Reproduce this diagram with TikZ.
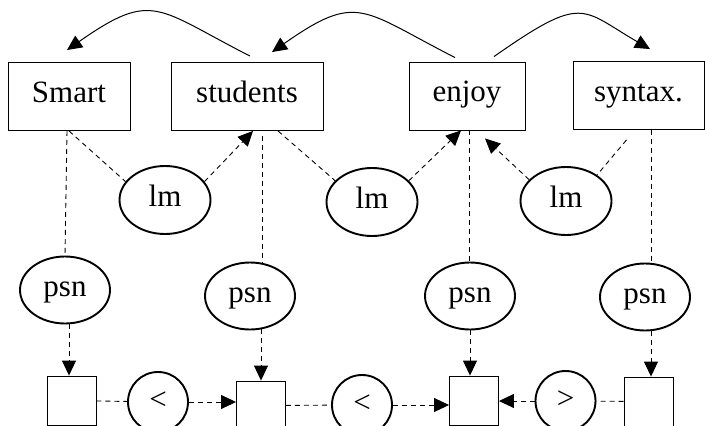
\documentclass[tikz,border=0pt]{standalone}
\usepackage{fontspec}
\setmainfont{Liberation Serif}
\usepackage{tikz}
\usetikzlibrary{arrows.meta, shapes.geometric, calc}
\tikzset{
    wordbox/.style={rectangle, draw, line width=0.9pt, minimum height=68pt, inner sep=0pt, text height=21pt, text depth=10pt, font=\fontsize{31pt}{36pt}\selectfont},
    lmnode/.style={ellipse, draw, line width=1.9pt, minimum width=91pt, minimum height=68pt, inner sep=0pt, text height=21pt, text depth=8pt, font=\fontsize{31pt}{36pt}\selectfont},
    slotbox/.style={rectangle, draw, line width=0.9pt, minimum width=49pt, minimum height=49pt, inner sep=0pt},
    cmpnode/.style={ellipse, draw, line width=1.9pt, minimum width=60pt, minimum height=60pt, inner sep=0pt, text height=21pt, text depth=7pt, font=\fontsize{31pt}{36pt}\selectfont},
    link/.style={dash pattern=on 5pt off 4pt, line width=0.9pt},
    dep/.style={-{Triangle[length=15pt,width=14pt]}, dash pattern=on 5pt off 4pt, line width=0.9pt},
    arc/.style={-{Triangle[length=15pt,width=14pt]}, line width=1pt},
}
\begin{document}
\begin{tikzpicture}[x=1pt, y=1pt]
    \useasboundingbox (0,0) rectangle (705,-426);

    % Parole
    \node[wordbox, minimum width=122pt] (w1) at (69,-96.5) {Smart};
    \node[wordbox, minimum width=152pt] (w2) at (247,-96.5) {students};
    \node[wordbox, minimum width=116pt] (w3) at (467,-96) {enjoy};
    \node[wordbox, minimum width=131pt] (w4) at (638.5,-95.5) {syntax.};

    % Modello di linguaggio
    \node[lmnode] (l1) at (165,-200) {lm};
    \node[lmnode] (l2) at (372,-202) {lm};
    \node[lmnode] (l3) at (566,-201) {lm};

    % Posizioni
    \node[lmnode, minimum width=90pt, minimum height=67pt] (p1) at (65,-290) {psn};
    \node[lmnode, minimum width=90pt, minimum height=67pt] (p2) at (250,-296) {psn};
    \node[lmnode, minimum width=90pt, minimum height=67pt] (p3) at (470,-296) {psn};
    \node[lmnode, minimum width=90pt, minimum height=67pt] (p4) at (645,-297) {psn};

    % Slot e confronti
    \node[slotbox] (b1) at (71.5,-400.5) {};
    \node[slotbox] (b2) at (261,-405.5) {};
    \node[slotbox] (b3) at (474,-400.5) {};
    \node[slotbox] (b4) at (648.5,-401.5) {};
    \node[cmpnode] (c1) at (158,-402) {<};
    \node[cmpnode] (c2) at (362,-405) {<};
    \node[cmpnode] (c3) at (565.5,-401) {>};

    % Archi sopra
    \draw[arc] ([xshift=3pt,yshift=6pt]w2.north) to[out=153, in=35, out distance=105pt, in distance=105pt] ([xshift=-2pt,yshift=12pt]w1.north);
    \draw[arc] ([xshift=-12pt,yshift=4pt]w3.north) to[out=153, in=35, out distance=105pt, in distance=105pt] ([xshift=25pt,yshift=10pt]w2.north);
    \draw[arc] ([xshift=27pt,yshift=5pt]w3.north) to[out=35, in=150, out distance=110pt, in distance=80pt] ([xshift=11.5pt,yshift=12pt]w4.north);

    % Collegamenti lm
    \draw[link] (w1.south) -- (l1.155);
    \draw[dep] (l1.25) -- ([xshift=6pt]w2.south);
    \draw[link] ([xshift=31pt]w2.south) -- (l2.150);
    \draw[dep] (l2.30) -- ([xshift=-6pt]w3.south);
    \draw[dep] (l3.150) -- ([xshift=18pt,yshift=-8pt]w3.south);
    \draw[link] ([xshift=-12pt,yshift=-10pt]w4.south) -- (l3.40);

    % Collegamenti psn
    \draw[link] ([xshift=-2pt]w1.south) -- (p1.north);
    \draw[link] ([xshift=15pt,yshift=-5pt]w2.south) -- ([xshift=12pt,yshift=-1pt]p2.north);
    \draw[link] ([xshift=2pt]w3.south) -- ([xshift=-1pt]p3.north);
    \draw[link] ([xshift=12.5pt]w4.south) -- ([xshift=6pt]p4.north);
    \draw[dep] ([xshift=4pt]p1.south) -- ([xshift=-2.5pt]b1.north);
    \draw[dep] ([xshift=11pt,yshift=1pt]p2.south) -- (b2.north);
    \draw[dep] (p3.south) -- ([xshift=-4pt]b3.north);
    \draw[dep] ([xshift=6pt]p4.south) -- ([xshift=2.5pt]b4.north);

    % Confronti
    \draw[link] (b1) -- (c1);
    \draw[dep] (c1) -- (c1 -| b2.west);
    \draw[link] (b2) -- (c2);
    \draw[dep] (c2) -- (c2 -| b3.west);
    \draw[dep] (c3) -- (c3 -| b3.east);
    \draw[link] (b4) -- (c3);
\end{tikzpicture}
\end{document}
